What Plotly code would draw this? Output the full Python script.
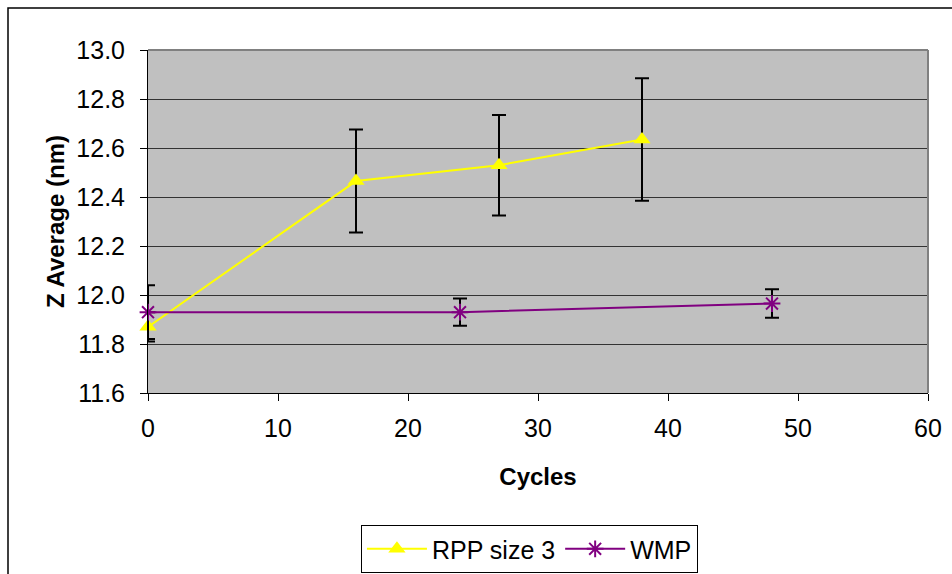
import plotly.graph_objects as go

rpp_x = [0, 16, 27, 38]
rpp_y = [11.87, 12.465, 12.53, 12.635]
rpp_err = [0.06, 0.21, 0.205, 0.25]

wmp_x = [0, 24, 48]
wmp_y = [11.93, 11.93, 11.965]
wmp_err = [0.11, 0.056, 0.058]

y_ticks = [11.6, 11.8, 12.0, 12.2, 12.4, 12.6, 12.8, 13.0]
x_ticks = [0, 10, 20, 30, 40, 50, 60]

FONT = "Liberation Sans, Arial, sans-serif"

fig = go.Figure()
fig.add_trace(go.Scatter(
    x=rpp_x, y=rpp_y, name="RPP size 3", mode="lines+markers",
    line=dict(color="#FFFF00", width=2),
    marker=dict(symbol="triangle-up", size=15, color="#FFFF00"),
    error_y=dict(type="data", array=rpp_err, color="black", thickness=2, width=7),
    cliponaxis=False,
))
fig.add_trace(go.Scatter(
    x=wmp_x, y=wmp_y, name="WMP", mode="lines+markers",
    line=dict(color="#800080", width=2),
    marker=dict(symbol="asterisk", size=14, color="#800080",
                line=dict(color="#800080", width=2)),
    error_y=dict(type="data", array=wmp_err, color="black", thickness=2, width=7),
    cliponaxis=False,
))

fig.update_layout(
    width=952, height=574,
    margin=dict(l=148, r=24, t=50, b=181, autoexpand=False),
    paper_bgcolor="white",
    plot_bgcolor="#C0C0C0",
    font=dict(family=FONT, size=25, color="black"),
    showlegend=True,
    legend=dict(
        orientation="h", x=0.273, y=-0.385, xanchor="left", yanchor="top",
        bgcolor="white", bordercolor="black", borderwidth=1,
        font=dict(size=25), itemwidth=60, tracegroupgap=0,
    ),
    xaxis=dict(
        range=[0, 60], tickvals=x_ticks, ticks="outside", ticklen=7,
        tickcolor="black", showgrid=False, zeroline=False,
        showline=True, linecolor="black", linewidth=1,
        ticklabelstandoff=6, automargin=False,
        title=dict(text="<b>Cycles</b>", font=dict(size=24), standoff=27),
    ),
    yaxis=dict(
        range=[11.6, 13.0], tickvals=y_ticks, tickformat=".1f",
        ticks="outside", ticklen=7, tickcolor="black",
        showgrid=True, gridcolor="#333333", gridwidth=1, zeroline=False,
        showline=True, linecolor="black", linewidth=1,
        ticklabelstandoff=10, automargin=False,
        title=dict(text="<b>Z Average (nm)</b>", font=dict(size=24), standoff=4),
    ),
    shapes=[
        dict(type="line", xref="paper", yref="paper", x0=0, x1=1, y0=1, y1=1,
             line=dict(color="#808080", width=2)),
        dict(type="line", xref="paper", yref="paper", x0=1, x1=1, y0=0, y1=1,
             line=dict(color="#808080", width=2)),
        dict(type="rect", xref="paper", yref="paper",
             x0=(8 - 148) / 780, x1=(960 - 148) / 780,
             y0=(393 - 590) / 343, y1=(393 - 8) / 343,
             line=dict(color="black", width=1.5), fillcolor="rgba(0,0,0,0)",
             layer="below"),
    ],
)

fig.write_html("out.html")
